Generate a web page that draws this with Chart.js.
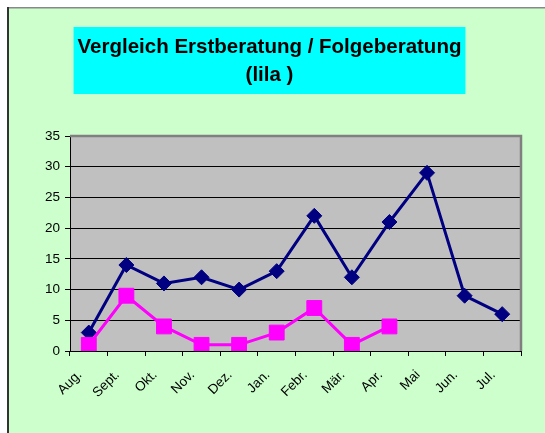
<!DOCTYPE html>
<html><head><meta charset="utf-8">
<script src="https://cdn.jsdelivr.net/npm/chart.js@4"></script>
<style>html,body{margin:0;padding:0;background:#fff;overflow:hidden}#wrap{width:545px;height:433px;position:relative}</style>
</head><body><div id="wrap"><canvas id="c" width="545" height="433"></canvas></div>
<script>
const categories = ['Aug.','Sept.','Okt.','Nov.','Dez.','Jan.','Febr.','Mär.','Apr.','Mai','Jun.','Jul.'];
const erstberatung = [3,14,11,12,10,13,22,12,21,29,9,6];
const folgeberatung = [1,9,4,1,1,3,7,1,4,null,null,null];
const yTicks = [0,5,10,15,20,25,30,35];
const titleLines = ['Vergleich Erstberatung / Folgeberatung','(lila )'];

const FONT = '"Liberation Sans", Arial, sans-serif';

const framePlugin = {
  id: 'frame',
  beforeDraw(chart) {
    const ctx = chart.ctx, W = chart.width, H = chart.height;
    ctx.save();
    ctx.fillStyle = '#ffffff';
    ctx.fillRect(0, 0, W, H);
    ctx.fillStyle = '#CCFFCC';
    ctx.fillRect(7, 7, W - 7, H - 7);
    ctx.fillStyle = '#888888';
    ctx.fillRect(7, 7, W - 7, 1.5);
    ctx.fillStyle = '#333333';
    ctx.fillRect(7, 7, 2, H - 7);
    // title box
    ctx.font = 'bold 20.5px ' + FONT;
    let maxW = 0;
    titleLines.forEach(t => { maxW = Math.max(maxW, ctx.measureText(t).width); });
    const cx = 269.5;
    ctx.fillStyle = '#00FFFF';
    ctx.fillRect(cx - maxW / 2 - 4, 27, maxW + 8, 67);
    ctx.fillStyle = '#000000';
    ctx.textAlign = 'center';
    ctx.textBaseline = 'alphabetic';
    titleLines.forEach((t, i) => ctx.fillText(t, cx, 53 + i * 27.5));
    // plot background
    const a = chart.chartArea;
    ctx.fillStyle = '#C0C0C0';
    ctx.fillRect(a.left, a.top, a.right - a.left, a.bottom - a.top);
    ctx.restore();
  },
  beforeDatasetsDraw(chart) {
    const ctx = chart.ctx, a = chart.chartArea;
    ctx.save();
    ctx.strokeStyle = '#808080';
    ctx.lineWidth = 2.5;
    ctx.beginPath();
    ctx.moveTo(a.left, a.top);
    ctx.lineTo(a.right, a.top);
    ctx.lineTo(a.right, a.bottom);
    ctx.stroke();
    ctx.restore();
  }
};

new Chart(document.getElementById('c'), {
  type: 'line',
  data: {
    labels: categories,
    datasets: [
      {
        label: 'Erstberatung',
        data: erstberatung,
        borderColor: '#000080',
        backgroundColor: '#000080',
        borderWidth: 3,
        pointStyle: 'rectRot',
        pointRadius: 7.5,
        pointBorderWidth: 1,
        pointBackgroundColor: '#000080',
        pointBorderColor: '#000080',
        tension: 0,
        order: 1
      },
      {
        label: 'Folgeberatung',
        data: folgeberatung,
        borderColor: '#FF00FF',
        backgroundColor: '#FF00FF',
        borderWidth: 3,
        pointStyle: 'rect',
        pointRadius: 10.5,
        pointBorderWidth: 1,
        pointBackgroundColor: '#FF00FF',
        pointBorderColor: '#FF00FF',
        tension: 0,
        order: 0
      }
    ]
  },
  options: {
    responsive: false,
    animation: false,
    devicePixelRatio: 1,
    layout: { padding: { left: 17, right: 24, top: 136, bottom: 0 } },
    plugins: { legend: { display: false }, title: { display: false }, tooltip: { enabled: false } },
    scales: {
      x: {
        offset: true,
        grid: { offset: true, drawOnChartArea: false, drawTicks: true, tickLength: 5, color: '#000', tickColor: '#000' },
        border: { display: true, color: '#000', width: 1 },
        ticks: { color: '#000', font: { family: FONT, size: 13.5 }, minRotation: 45, maxRotation: 45, padding: 11, labelOffset: -9, autoSkip: false },
        afterFit(s) { s.height = 82; }
      },
      y: {
        min: 0, max: 35,
        afterBuildTicks(s) { s.ticks = yTicks.map(v => ({ value: v })); },
        grid: {
          color: c => (c.tick && (c.tick.value === 0 || c.tick.value === 35)) ? 'rgba(0,0,0,0)' : '#000',
          tickColor: '#000', tickLength: 5, drawTicks: true, lineWidth: 1
        },
        border: { display: true, color: '#000', width: 1 },
        ticks: { color: '#000', font: { family: FONT, size: 13.5 }, padding: 5 },
        afterFit(s) { s.width = 53; }
      }
    }
  },
  plugins: [framePlugin]
});
</script>
</body></html>
